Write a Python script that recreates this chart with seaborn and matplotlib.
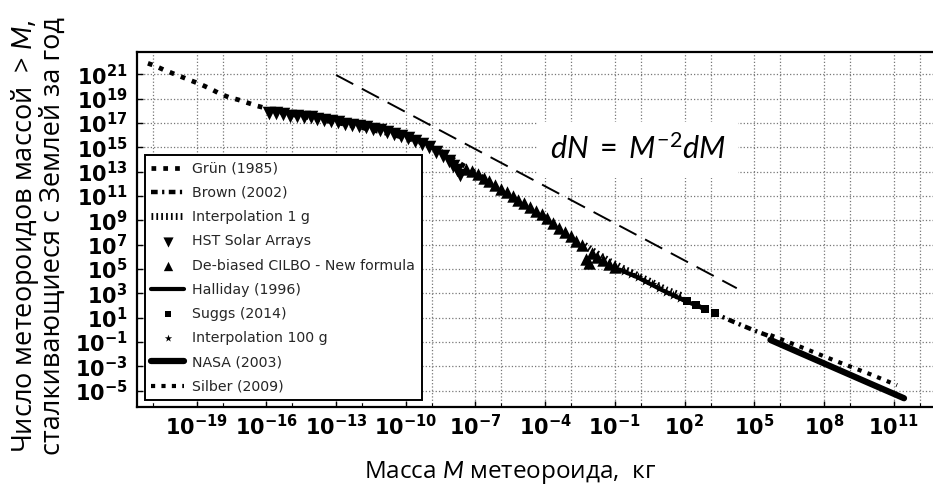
import matplotlib
matplotlib.use("Agg")
import matplotlib.pyplot as plt
import seaborn as sns
from matplotlib.ticker import FixedLocator, FixedFormatter, NullLocator, NullFormatter

# ---- data (log10 of mass in kg, log10 of cumulative number per year) ----
grun_lgm = [-21.1, -20.8, -20.4, -20.0, -19.6, -19.2, -18.8, -18.4, -18.0, -17.6, -17.2, -16.8,
            -16.4, -16.0, -15.5, -14.5, -13.5, -12.5, -11.5, -10.5, -9.5, -8.5, -7.6, -7.0, -6.5]
grun_lgn = [21.9, 21.7, 21.35, 21.05, 20.75, 20.45, 20.15, 19.8, 19.4, 19.1, 18.9, 18.65,
            18.4, 18.2, 17.9, 17.55, 17.2, 16.85, 16.45, 16.0, 15.5, 14.7, 13.6, 12.95, 12.3]

brown_lgm = [2.5, 3.0, 4.0, 5.0, 5.7]
brown_lgn = [2.05, 1.6, 0.75, -0.05, -0.55]

int1_lgm = [-2.3, -1.8, -1.2, -0.6, 0.0, 0.6, 1.2, 1.95]
int1_lgn = [6.95, 6.3, 5.6, 5.0, 4.45, 3.9, 3.3, 2.75]

hst_lgm = [-15.9, -15.6, -15.3, -15.0, -14.7, -14.4, -14.1, -13.8, -13.5, -13.2, -12.9, -12.6,
           -12.3, -12.0, -11.7, -11.4, -11.1, -10.8, -10.5, -10.2, -9.9, -9.6, -9.3, -9.0,
           -8.7, -8.4, -8.15, -7.95, -7.8, -7.65]
hst_lgn = [17.85, 17.8, 17.7, 17.6, 17.55, 17.5, 17.45, 17.35, 17.25, 17.15, 17.05, 16.95,
           16.85, 16.75, 16.65, 16.5, 16.4, 16.25, 16.1, 15.95, 15.75, 15.55, 15.3, 15.0,
           14.65, 14.25, 13.85, 13.45, 13.1, 12.7]

cilbo_lgm = [-7.4, -7.15, -6.9, -6.65, -6.4, -6.15, -5.9, -5.65, -5.4, -5.15, -4.9, -4.65, -4.4,
             -4.15, -3.9, -3.65, -3.4, -3.15, -2.9, -2.65, -2.4, -2.25, -2.1, -2.0, -1.75, -1.5,
             -1.25, -1.0]
cilbo_lgn = [13.25, 13.05, 12.8, 12.5, 12.2, 11.9, 11.6, 11.3, 11.0, 10.7, 10.4, 10.1, 9.8,
             9.5, 9.15, 8.8, 8.4, 8.05, 7.7, 7.3, 6.95, 5.8, 5.5, 6.35, 6.0, 5.7,
             5.45, 5.15]

halliday_lgm = [-0.8, 0.0, 1.0, 2.0, 2.9]
halliday_lgn = [4.95, 4.3, 3.3, 2.4, 1.7]

suggs_lgm = [2.1, 2.5, 2.9, 3.3]
suggs_lgn = [2.35, 2.05, 1.7, 1.35]

int100_lgm = [-0.6, -0.3, 0.0, 0.3, 0.6, 0.9, 1.2, 1.5, 1.8]
int100_lgn = [4.8, 4.55, 4.35, 4.05, 3.75, 3.4, 3.1, 2.85, 2.6]

nasa_lgm = [5.7, 7.0, 8.5, 10.0, 11.45]
nasa_lgn = [-0.83, -1.92, -3.17, -4.42, -5.62]

silber_lgm = [5.7, 7.0, 8.5, 10.0, 11.15]
silber_lgn = [-0.43, -1.4, -2.55, -3.65, -4.55]

slope_lgm = [-13.0, 4.25]
slope_lgn = [20.94, 3.42]

x_tick_exp = [-19, -16, -13, -10, -7, -4, -1, 2, 5, 8, 11]
x_minor_exp = [-20.88, -17.88, -14.88, -11.88, -8.88, -5.88, -2.88, 0.12, 3.12, 6.12, 9.12, 12.12]
y_tick_exp = [21, 19, 17, 15, 13, 11, 9, 7, 5, 3, 1, -1, -3, -5]

legend_order = ['Grün (1985)', 'Brown (2002)', 'Interpolation 1 g', 'HST Solar Arrays',
                'De-biased CILBO - New formula', 'Halliday (1996)', 'Suggs (2014)',
                'Interpolation 100 g', 'NASA (2003)', 'Silber (2009)']


def pw(v):
    return [10.0 ** e for e in v]


sns.set_theme(style="ticks")
plt.rcParams['font.family'] = ['DejaVu Sans']
plt.rcParams['mathtext.fontset'] = 'custom'
plt.rcParams['mathtext.it'] = 'Lato:italic'
plt.rcParams['mathtext.rm'] = 'Lato'
plt.rcParams['mathtext.bf'] = 'Lato:bold'
plt.rcParams['axes.unicode_minus'] = True

fig = plt.figure(figsize=(9.33, 4.97), dpi=100)
ax = fig.add_axes([137 / 933, 90 / 497, 800 / 933, 355 / 497])
ax.set_xscale('log')
ax.set_yscale('log')

K = 'black'
# lines
sns.lineplot(x=pw(grun_lgm), y=pw(grun_lgn), ax=ax, color=K, lw=3.4, linestyle=(0, (1, 1.5)),
             sort=False, estimator=None, label='Grün (1985)', zorder=3)
sns.lineplot(x=pw(brown_lgm), y=pw(brown_lgn), ax=ax, color=K, lw=3.2, linestyle=(0, (1.5, 1, 0.5, 1)),
             sort=False, estimator=None, label='Brown (2002)', zorder=3)
sns.lineplot(x=pw(int1_lgm), y=pw(int1_lgn), ax=ax, color=K, lw=5, linestyle=(0, (0.25, 0.45)),
             sort=False, estimator=None, label='Interpolation 1 g', zorder=3)
sns.scatterplot(x=pw(hst_lgm), y=pw(hst_lgn), ax=ax, color=K, marker='v', s=95, linewidth=0,
                label='HST Solar Arrays', zorder=4)
sns.scatterplot(x=pw(cilbo_lgm), y=pw(cilbo_lgn), ax=ax, color=K, marker='^', s=80, linewidth=0,
                label='De-biased CILBO - New formula', zorder=4)
sns.lineplot(x=pw(halliday_lgm), y=pw(halliday_lgn), ax=ax, color=K, lw=3,
             sort=False, estimator=None, label='Halliday (1996)', zorder=3)
sns.scatterplot(x=pw(suggs_lgm), y=pw(suggs_lgn), ax=ax, color=K, marker='s', s=26, linewidth=0,
                label='Suggs (2014)', zorder=4)
sns.scatterplot(x=pw(int100_lgm), y=pw(int100_lgn), ax=ax, color=K, marker='*', s=55, linewidth=0,
                label='Interpolation 100 g', zorder=4)
sns.lineplot(x=pw(nasa_lgm), y=pw(nasa_lgn), ax=ax, color=K, lw=4.5,
             sort=False, estimator=None, label='NASA (2003)', zorder=3)
sns.lineplot(x=pw(silber_lgm), y=pw(silber_lgn), ax=ax, color=K, lw=3, linestyle=(0, (1, 1.5)),
             sort=False, estimator=None, label='Silber (2009)', zorder=3)
sns.lineplot(x=pw(slope_lgm), y=pw(slope_lgn), ax=ax, color=K, lw=1.4, linestyle=(0, (10, 5)),
             sort=False, estimator=None, zorder=3, legend=False)

ax.set_xlim(10 ** -21.57, 10 ** 12.87)
ax.set_ylim(10 ** -6.34, 10 ** 22.83)

ax.xaxis.set_major_locator(FixedLocator(pw(x_tick_exp)))
ax.xaxis.set_major_formatter(FixedFormatter([r'$\mathdefault{10^{%d}}$' % e for e in x_tick_exp]))
ax.xaxis.set_minor_locator(FixedLocator(pw(x_minor_exp)))
ax.xaxis.set_minor_formatter(NullFormatter())
ax.yaxis.set_major_locator(FixedLocator(pw(y_tick_exp)))
ax.yaxis.set_major_formatter(FixedFormatter([r'$\mathdefault{10^{%d}}$' % e for e in y_tick_exp]))
ax.yaxis.set_minor_locator(NullLocator())

ax.tick_params(axis='both', which='major', direction='in', length=4, width=1, colors=K,
               labelsize=15)
ax.tick_params(axis='x', which='major', pad=5)
ax.tick_params(axis='y', which='major', pad=7)
ax.tick_params(axis='x', which='minor', direction='in', length=3, width=0.8, colors=K)
for lab in ax.get_xticklabels() + ax.get_yticklabels():
    lab.set_fontweight('bold')

ax.set_axisbelow(True)
ax.grid(True, which='major', axis='both', color='#777777', linestyle=':', linewidth=0.9)
ax.grid(True, which='minor', axis='x', color='#777777', linestyle=':', linewidth=0.9)

for side in ['left', 'bottom', 'top']:
    ax.spines[side].set_color(K)
    ax.spines[side].set_linewidth(1.6)
ax.spines['right'].set_visible(False)
ax.set_xlabel('')
ax.set_ylabel('')

h, l = ax.get_legend_handles_labels()
hd = dict(zip(l, h))
leg = ax.legend([hd[k] for k in legend_order], legend_order, loc='lower left',
                bbox_to_anchor=(0.01, 0.02), borderaxespad=0, fontsize=10.2,
                frameon=True, fancybox=False, framealpha=1, edgecolor=K,
                handlelength=2.3, handletextpad=0.6, labelspacing=0.72, borderpad=0.45,
                scatterpoints=1, markerscale=0.75)
leg.get_frame().set_linewidth(1.4)
leg.set_zorder(10)

ax.text(0.626, 0.724, r'$dN\;=\;M^{\mathrm{-2}}dM$', transform=ax.transAxes, fontsize=22,
        ha='center', va='center', color=K, zorder=6,
        bbox=dict(boxstyle='square,pad=0.4', facecolor='white', edgecolor='none'))

fig.text(510 / 933, 1 - 472 / 497, r'Масса $M$ метеороида,  кг', fontsize=17.5,
         family='Open Sans', ha='center', va='center', color=K)
fig.text(38 / 933, 1 - 236 / 497, 'Число метеороидов массой  > $M$,\nсталкивающиеся с Землей за год',
         rotation=90, fontsize=19.5, family='Open Sans', ha='center', va='center', color=K,
         multialignment='center', linespacing=0.92)

fig.savefig('out.png', dpi=100)
